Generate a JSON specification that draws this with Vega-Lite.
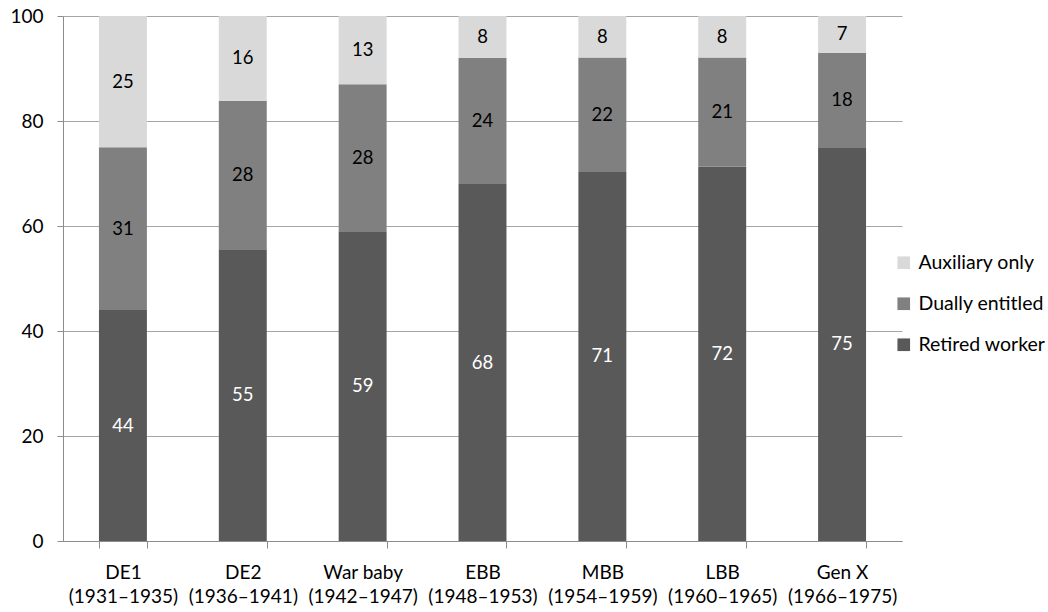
{
  "$schema": "https://vega.github.io/schema/vega-lite/v6.json",
  "width": 839,
  "height": 525,
  "autosize": {"type": "none"},
  "padding": {"left": 63, "top": 16, "right": 146, "bottom": 71},
  "config": {
    "font": "Lato",
    "view": {"stroke": null},
    "axis": {"labelFont": "Lato", "labelFontSize": 19, "labelColor": "#000000", "domainColor": "#8c8c8c", "tickColor": "#8c8c8c", "gridColor": "#a6a6a6", "title": null}
  },
  "data": {
    "values": [
      {"cohort": "DE1\n(1931–1935)", "series": "Retired worker", "ord": 1, "value": 44},
      {"cohort": "DE1\n(1931–1935)", "series": "Dually entitled", "ord": 2, "value": 31},
      {"cohort": "DE1\n(1931–1935)", "series": "Auxiliary only", "ord": 3, "value": 25},
      {"cohort": "DE2\n(1936–1941)", "series": "Retired worker", "ord": 1, "value": 55},
      {"cohort": "DE2\n(1936–1941)", "series": "Dually entitled", "ord": 2, "value": 28},
      {"cohort": "DE2\n(1936–1941)", "series": "Auxiliary only", "ord": 3, "value": 16},
      {"cohort": "War baby\n(1942–1947)", "series": "Retired worker", "ord": 1, "value": 59},
      {"cohort": "War baby\n(1942–1947)", "series": "Dually entitled", "ord": 2, "value": 28},
      {"cohort": "War baby\n(1942–1947)", "series": "Auxiliary only", "ord": 3, "value": 13},
      {"cohort": "EBB\n(1948–1953)", "series": "Retired worker", "ord": 1, "value": 68},
      {"cohort": "EBB\n(1948–1953)", "series": "Dually entitled", "ord": 2, "value": 24},
      {"cohort": "EBB\n(1948–1953)", "series": "Auxiliary only", "ord": 3, "value": 8},
      {"cohort": "MBB\n(1954–1959)", "series": "Retired worker", "ord": 1, "value": 71},
      {"cohort": "MBB\n(1954–1959)", "series": "Dually entitled", "ord": 2, "value": 22},
      {"cohort": "MBB\n(1954–1959)", "series": "Auxiliary only", "ord": 3, "value": 8},
      {"cohort": "LBB\n(1960–1965)", "series": "Retired worker", "ord": 1, "value": 72},
      {"cohort": "LBB\n(1960–1965)", "series": "Dually entitled", "ord": 2, "value": 21},
      {"cohort": "LBB\n(1960–1965)", "series": "Auxiliary only", "ord": 3, "value": 8},
      {"cohort": "Gen X\n(1966–1975)", "series": "Retired worker", "ord": 1, "value": 75},
      {"cohort": "Gen X\n(1966–1975)", "series": "Dually entitled", "ord": 2, "value": 18},
      {"cohort": "Gen X\n(1966–1975)", "series": "Auxiliary only", "ord": 3, "value": 7}
    ]
  },
  "transform": [
    {"stack": "value", "groupby": ["cohort"], "sort": [{"field": "ord", "order": "ascending"}], "offset": "normalize", "as": ["s0", "s1"]},
    {"calculate": "datum.s0 * 100", "as": "lo"},
    {"calculate": "datum.s1 * 100", "as": "hi"},
    {"calculate": "(datum.s0 + datum.s1) * 50", "as": "mid"}
  ],
  "encoding": {
    "x": {
      "field": "cohort",
      "type": "nominal",
      "sort": null,
      "scale": {"paddingInner": 0.6, "paddingOuter": 0.3},
      "axis": {"labelAngle": 0, "labelExpr": "isValid(datum.value) ? split(datum.value, '\\n') : ''", "tickBand": "extent", "tickSize": 7, "labelPadding": 15, "labelLineHeight": 24}
    }
  },
  "layer": [
    {
      "mark": {"type": "bar"},
      "encoding": {
        "y": {"field": "lo", "type": "quantitative", "scale": {"domain": [0, 100]}, "axis": {"values": [0, 20, 40, 60, 80, 100], "tickSize": 6, "labelPadding": 14, "grid": true}},
        "y2": {"field": "hi"},
        "color": {
          "field": "series",
          "type": "nominal",
          "scale": {"domain": ["Auxiliary only", "Dually entitled", "Retired worker"], "range": ["#d9d9d9", "#808080", "#595959"]},
          "legend": {"title": null, "orient": "none", "legendX": 831, "legendY": 237, "padding": 0, "symbolType": "square", "symbolSize": 160, "symbolStrokeWidth": 0, "labelFont": "Lato", "labelFontSize": 19.5, "labelColor": "#000000", "rowPadding": 20, "labelOffset": 5, "labelLimit": 200}
        }
      }
    },
    {
      "mark": {"type": "text", "font": "Lato", "fontSize": 18.5, "baseline": "middle"},
      "encoding": {
        "y": {"field": "mid", "type": "quantitative"},
        "text": {"field": "value", "type": "quantitative"},
        "color": {"condition": {"test": "datum.series === 'Retired worker'", "value": "#ffffff"}, "value": "#000000"}
      }
    }
  ]
}
